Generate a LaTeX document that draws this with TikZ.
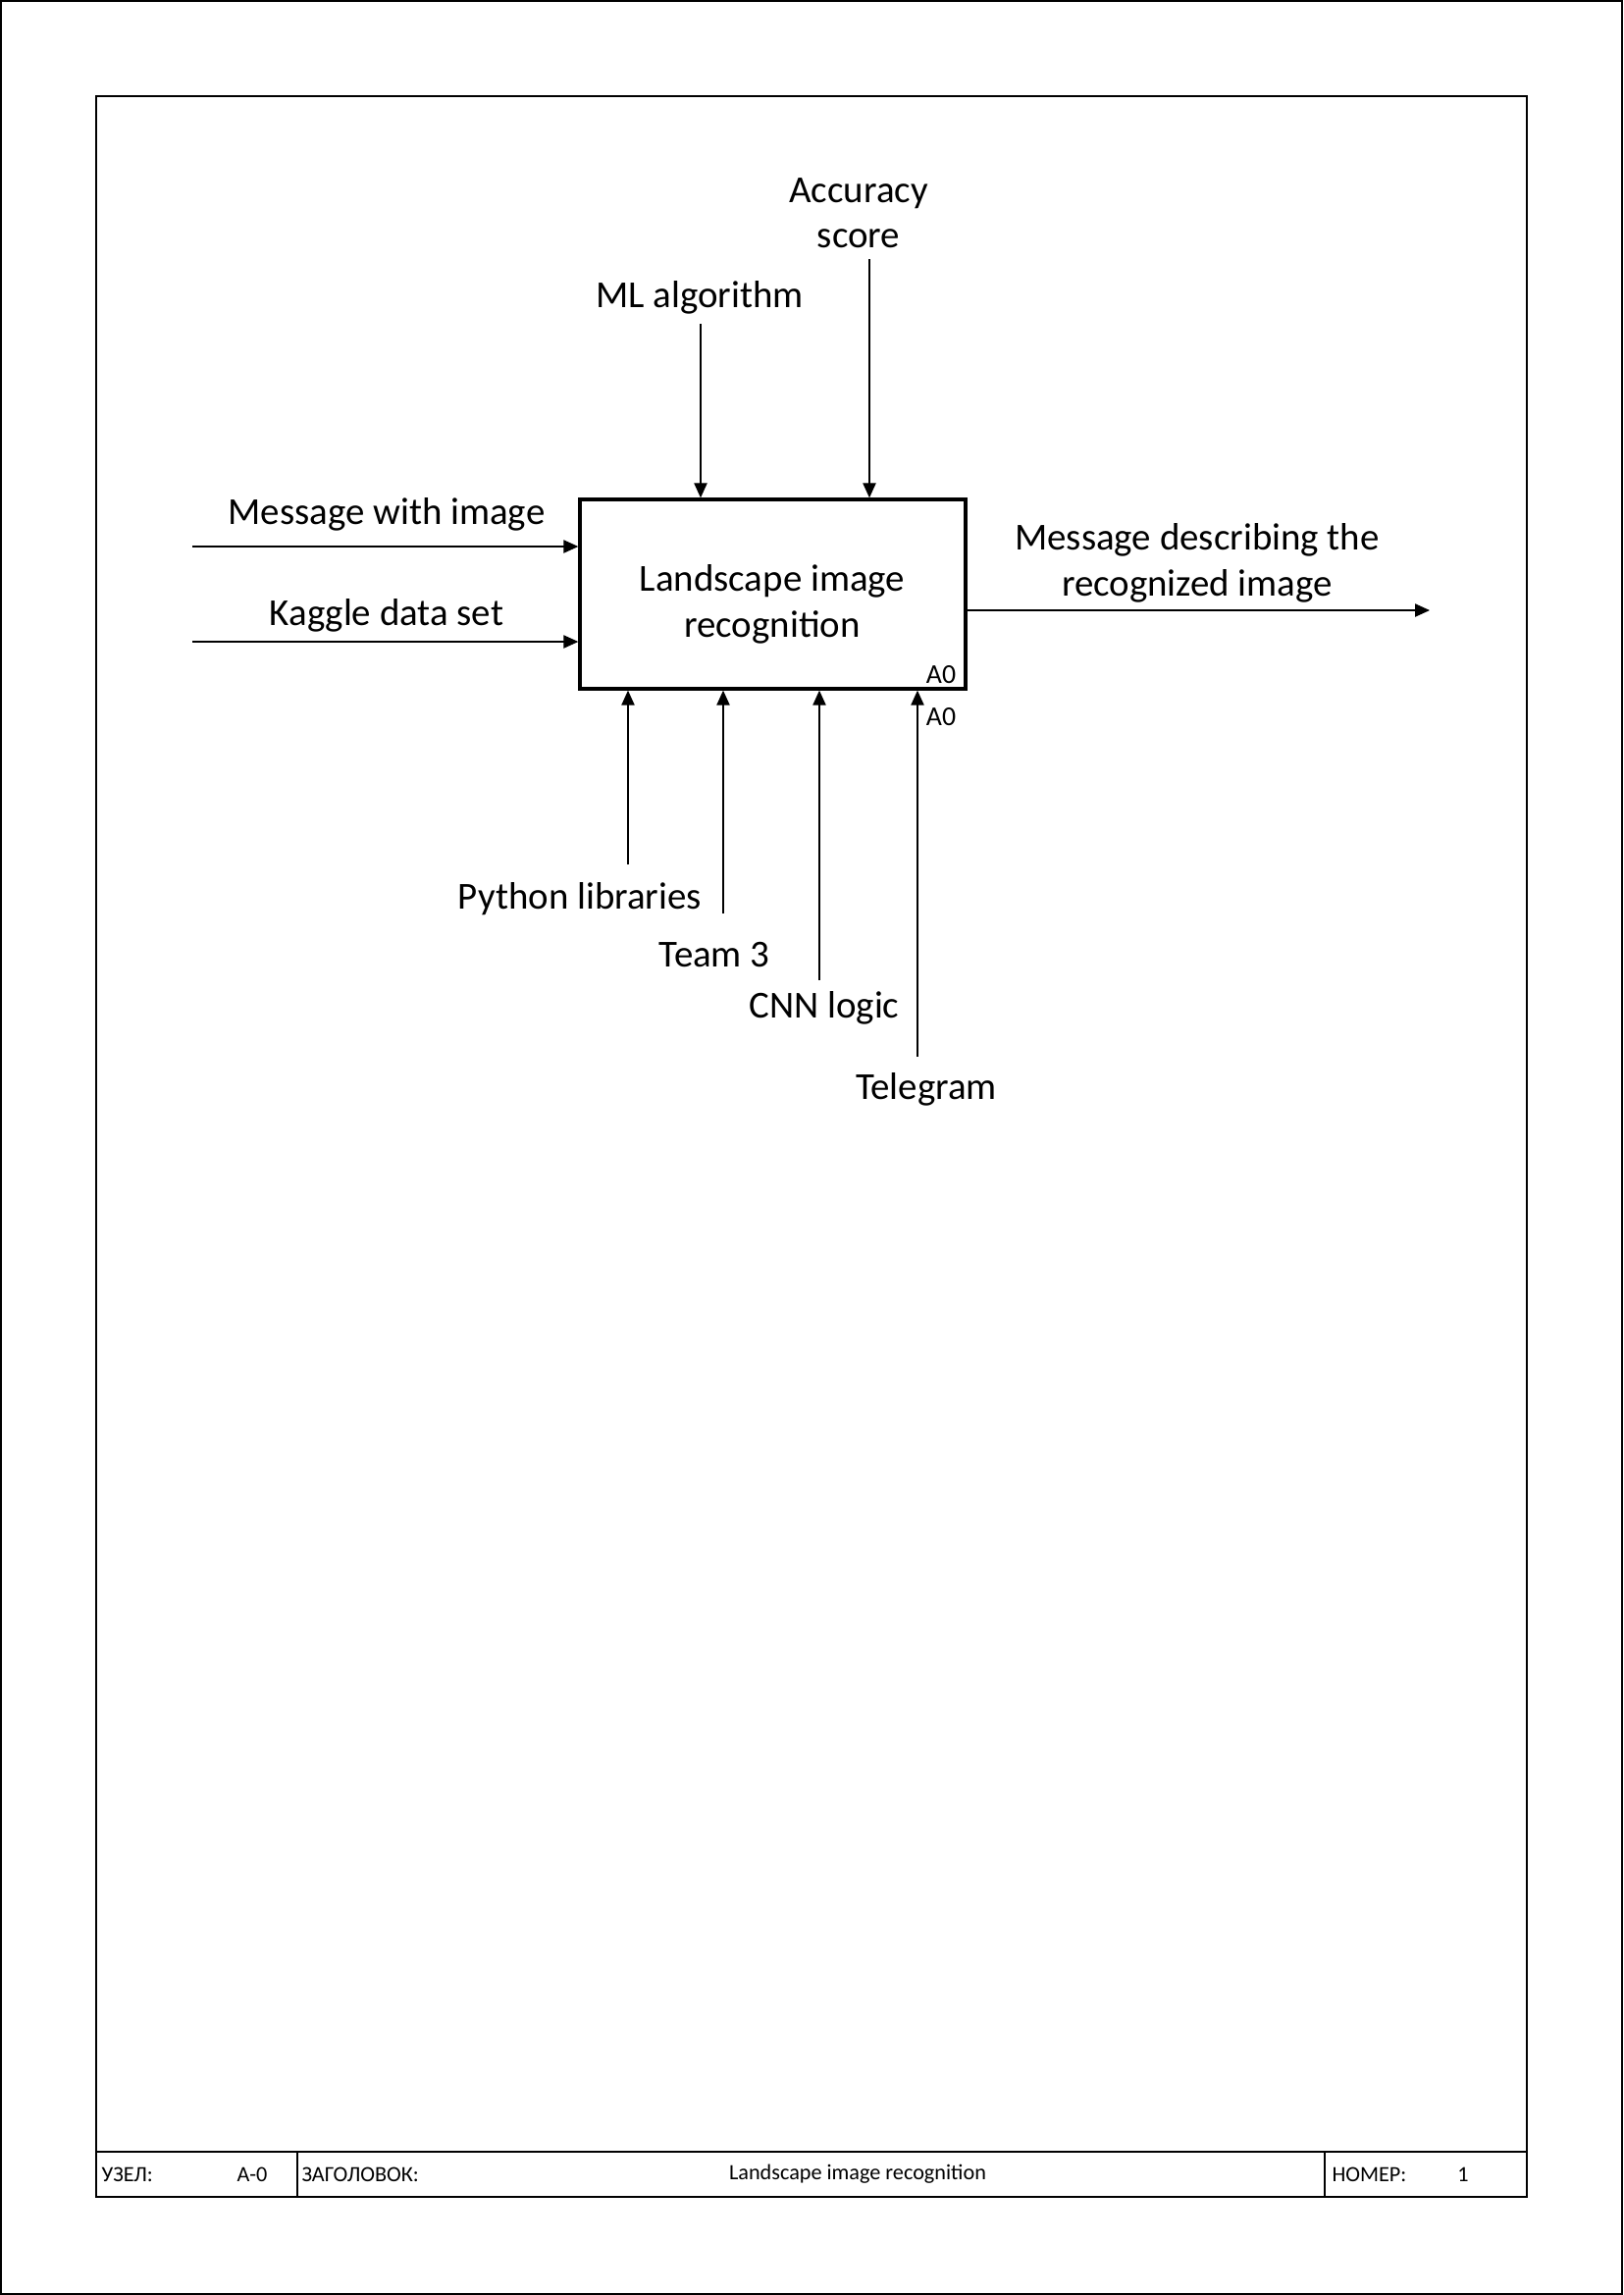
\documentclass[tikz,border=0pt]{standalone}
\usepackage{fontspec}
\setmainfont{Carlito}
\usetikzlibrary{arrows.meta}
\begin{document}
\begin{tikzpicture}[x=0.36pt,y=-0.36pt,
  lbl/.style={font=\fontsize{14}{16.6}\selectfont, align=center, inner sep=0pt, yshift=-1pt},
  small/.style={font=\fontsize{10}{12}\selectfont, inner sep=0pt},
  foot/.style={font=\fontsize{8}{9.5}\selectfont, inner sep=0pt},
  conn/.style={line width=0.45pt, -{Triangle[length=5.4pt,width=4.8pt]}},
  frame/.style={line width=1pt}
]
\useasboundingbox (0,0) rectangle (1654,2339);
\draw[line width=0.72pt] (1,1) rectangle (1653,2338);
\draw[frame] (98,98) rectangle (1556,2239);
\draw[frame] (98,2193) -- (1556,2193);
\draw[frame] (303,2193) -- (303,2239);
\draw[frame] (1350,2193) -- (1350,2239);
\node[foot, anchor=west] (f1) at (103,2216) {УЗЕЛ:};
\node[foot] (f2) at (257,2216) {A-0};
\node[foot, anchor=west] (f3) at (307,2216) {ЗАГОЛОВОК:};
\node[foot] (f4) at (874,2216) {Landscape image recognition};
\node[foot, anchor=west] (f5) at (1357,2216) {НОМЕР:};
\node[foot] (f6) at (1491,2216) {1};

\node[draw, line width=1.2pt, minimum width=141.5pt, minimum height=69.5pt, inner sep=0pt] (box) at (787.5,605.5) {};
\node[lbl] (boxT) at (787,613) {Landscape image\\recognition};
\node[small] (a0in) at (959,688) {A0};
\node[small] (a0out) at (959,731) {A0};

\coordinate (inA) at (196,557);
\coordinate (inB) at (196,654);
\draw[conn] (inA) -- (inA -| box.west);
\draw[conn] (inB) -- (inB -| box.west);
\node[lbl] (lA) at (394,522) {Message with image};
\node[lbl] (lB) at (394,625) {Kaggle data set};

\coordinate (outE) at (1457,622);
\draw[conn] (outE -| box.east) -- (outE);
\node[lbl] (lO) at (1220,571) {Message describing the\\recognized image};

\coordinate (mlS) at (714,330);
\coordinate (acS) at (886,264);
\draw[conn] (mlS) -- (mlS |- box.north);
\draw[conn] (acS) -- (acS |- box.north);
\node[lbl] (lML) at (713,301) {ML algorithm};
\node[lbl] (lAC) at (875,214) {Accuracy\\score};

\coordinate (pyS) at (640,881);
\coordinate (tmS) at (737,931);
\coordinate (cnS) at (835,999);
\coordinate (tgS) at (935,1077);
\draw[conn] (pyS) -- (pyS |- box.south);
\draw[conn] (tmS) -- (tmS |- box.south);
\draw[conn] (cnS) -- (cnS |- box.south);
\draw[conn] (tgS) -- (tgS |- box.south);
\node[lbl] (lPY) at (591,913) {Python libraries};
\node[lbl] (lTM) at (728,970) {Team 3};
\node[lbl] (lCN) at (840,1025) {CNN logic};
\node[lbl] (lTG) at (944,1108) {Telegram};
\end{tikzpicture}
\end{document}
